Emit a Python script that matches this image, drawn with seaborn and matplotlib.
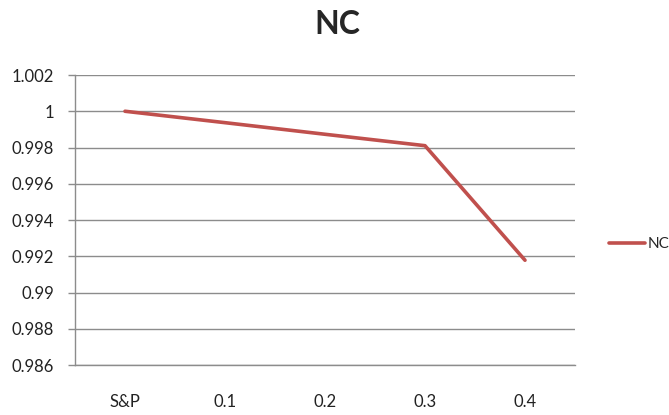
import numpy as np
import pandas as pd
import matplotlib
matplotlib.use('Agg')
import matplotlib.pyplot as plt
import seaborn as sns

# data
categories = ['S&P', '0.1', '0.2', '0.3', '0.4']
nc_values = [1.0, 0.99937, 0.99873, 0.99810, 0.99178]
y_ticks = [0.986, 0.988, 0.99, 0.992, 0.994, 0.996, 0.998, 1, 1.002]
y_labels = ['0.986', '0.988', '0.99', '0.992', '0.994', '0.996', '0.998', '1', '1.002']

df = pd.DataFrame({'pos': np.arange(len(categories)), 'NC': nc_values})

sns.set_theme(style='white')
plt.rcParams['font.family'] = ['Lato', 'DejaVu Sans']

fig = plt.figure(figsize=(6.69, 4.15), dpi=100)
ax = fig.add_axes([75 / 669, 50 / 415, 500 / 669, 290 / 415])

sns.lineplot(data=df, x='pos', y='NC', ax=ax, color='#C0504D', linewidth=2.6,
             label='NC', legend=False)

ax.set_xlim(-0.5, len(categories) - 0.5)
ax.set_ylim(0.986, 1.002)

# gridlines
ax.set_yticks(y_ticks)
ax.set_yticklabels(y_labels)
ax.grid(axis='y', color='#8c8c8c', linewidth=1)
ax.set_axisbelow(True)

# category labels in the middle, tick marks on the boundaries
ax.set_xticks(np.arange(len(categories)))
ax.set_xticklabels(categories)
ax.set_xticks(np.arange(len(categories) + 1) - 0.5, minor=True)
ax.tick_params(axis='x', which='major', length=0, pad=21, labelsize=12, labelcolor='#222222')
ax.tick_params(axis='x', which='minor', length=4, width=1, color='#8c8c8c', direction='out')
ax.tick_params(axis='y', which='major', length=5, width=1, color='#8c8c8c', direction='out',
               left=True, pad=10, labelsize=12, labelcolor='#222222')

for side in ['top', 'right']:
    ax.spines[side].set_visible(False)
for side in ['left', 'bottom']:
    ax.spines[side].set_color('#8c8c8c')
    ax.spines[side].set_linewidth(1)

ax.set_xlabel('')
ax.set_ylabel('')

fig.suptitle('NC', x=337 / 669, y=1 - 24 / 415, va='center', fontsize=23, fontweight='bold')

ax.legend(loc='center left', bbox_to_anchor=(1.055, 0.417), frameon=False,
          handlelength=2.4, handletextpad=0.15, fontsize=11, borderaxespad=0)

fig.savefig('out.png', dpi=100)
